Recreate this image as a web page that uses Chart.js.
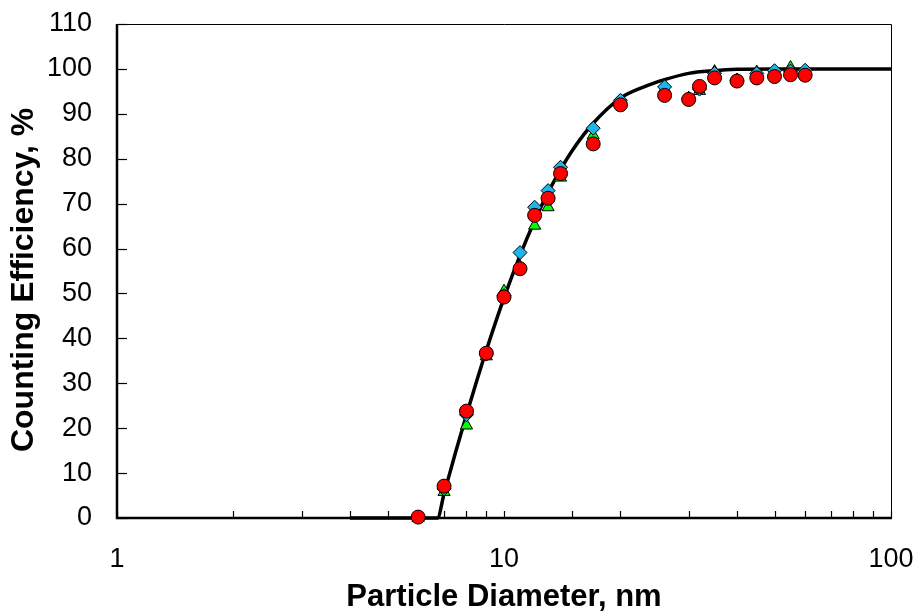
<!DOCTYPE html>
<html>
<head>
<meta charset="utf-8">
<script src="https://cdn.jsdelivr.net/npm/chart.js"></script>
<style>
  html, body { margin: 0; padding: 0; background: #fff; }
  #wrap { width: 919px; height: 613px; position: relative; }
</style>
</head>
<body>
<div id="wrap"><canvas id="effChart"></canvas></div>
<script>
// particle diameters (nm) and counting efficiency (%)
const diamRed = [6, 7, 8, 9, 10, 11, 12, 13, 14, 17, 20, 26, 30, 32, 35, 40, 45, 50, 55, 60]
const effRed = [0.2, 7.1, 23.8, 36.7, 49.2, 55.5, 67.4, 71.2, 76.7, 83.3, 92.0, 94.1, 93.2, 96.1, 98.0, 97.3, 98.0, 98.3, 98.7, 98.6]

const diamGreen = [6, 7, 8, 9, 10, 11, 12, 13, 14, 17, 20, 26, 30, 32, 35, 40, 45, 50, 55, 60]
const effGreen = [0, 5.8, 20.6, 36.0, 50.5, 56.0, 65.1, 69.2, 75.8, 85.2, 92.5, 95.6, 93.5, 95.1, 99.4, 97.5, 99.3, 99.2, 100.3, 99.4]

const diamCyan = [7, 8, 9, 10, 11, 12, 13, 14, 17, 20, 26, 30, 32, 35, 40, 45, 50, 55, 60]
const effCyan = [6.5, 23.0, 36.5, 49.5, 59.1, 69.2, 72.9, 78.1, 86.8, 93.0, 96.0, 93.3, 95.5, 99.0, 97.5, 99.0, 99.6, 99.5, 99.7]

// fitted curve
const diamFit = [4, 6.73, 7, 7.5, 8, 8.5, 9, 10, 11, 12, 13, 14, 15, 17, 20, 23, 26, 30, 35, 40, 50, 60, 100]
const effFit = [0, 0, 5.4, 14.7, 23.0, 30.5, 37.3, 49.0, 58.5, 66.2, 72.5, 77.6, 81.8, 87.9, 93.5, 96.0, 97.6, 99.0, 99.6, 99.9, 100, 100, 100]

const xLabels = [1, 10, 100]
const yTicks = [0, 10, 20, 30, 40, 50, 60, 70, 80, 90, 100, 110]

const toPts = (xs, ys) => xs.map((d, i) => ({ x: d, y: ys[i] }))

document.addEventListener("DOMContentLoaded", () => {
  const canvas = document.getElementById("effChart")

  // inside tick marks + box, drawn under the markers
  const frame = {
    id: "frame",
    beforeDatasetsDraw(chart) {
      const { ctx, chartArea: a, scales } = chart
      const x = scales.x
      const y = scales.y
      ctx.save()
      ctx.strokeStyle = "#000"
      ctx.lineWidth = 1.2
      yTicks.forEach(v => {
        const py = Math.round(y.getPixelForValue(v)) + 0.5
        ctx.beginPath()
        ctx.moveTo(a.left, py)
        ctx.lineTo(a.left + 10, py)
        ctx.stroke()
      })
      x.ticks.forEach(t => {
        const px = Math.round(x.getPixelForValue(t.value)) + 0.5
        ctx.beginPath()
        ctx.moveTo(px, a.bottom)
        ctx.lineTo(px, a.bottom - 7)
        ctx.stroke()
      })
      // top and right: thin
      ctx.lineWidth = 1
      ctx.beginPath()
      ctx.moveTo(a.left, a.top + 0.5)
      ctx.lineTo(a.right + 0.5, a.top + 0.5)
      ctx.lineTo(a.right + 0.5, a.bottom)
      ctx.stroke()
      // left and bottom: heavier
      ctx.lineWidth = 2.5
      ctx.beginPath()
      ctx.moveTo(a.left, a.top)
      ctx.lineTo(a.left, a.bottom)
      ctx.lineTo(a.right + 1, a.bottom)
      ctx.stroke()
      ctx.restore()
    }
  }

  // keep the plot box where the reference has it
  const noPad = s => {
    s.paddingTop = 0
    s.paddingBottom = 0
    s.paddingLeft = 0
    s.paddingRight = 0
  }

  const fam = "'Liberation Sans', Arial, sans-serif"
  const tickFont = { family: fam, size: 27 }

  new Chart(canvas, {
    type: "scatter",
    data: {
      datasets: [
        {
          label: "circles",
          data: toPts(diamRed, effRed),
          pointStyle: "circle",
          pointRadius: 7,
          pointBackgroundColor: "#ff0000",
          pointBorderColor: "#000",
          pointBorderWidth: 1,
          order: 1,
        },
        {
          label: "diamonds",
          data: toPts(diamCyan, effCyan),
          pointStyle: "rectRot",
          pointRadius: 7,
          pointBackgroundColor: "#1eb6e8",
          pointBorderColor: "#000",
          pointBorderWidth: 1,
          order: 2,
        },
        {
          label: "triangles",
          data: toPts(diamGreen, effGreen),
          pointStyle: "triangle",
          pointRadius: 7,
          pointBackgroundColor: "#00ff00",
          pointBorderColor: "#000",
          pointBorderWidth: 1,
          order: 3,
        },
        {
          label: "fit",
          data: toPts(diamFit, effFit),
          showLine: true,
          borderColor: "#000",
          borderWidth: 3.5,
          pointRadius: 0,
          cubicInterpolationMode: "monotone",
          order: 4,
        },
      ],
    },
    options: {
      responsive: true,
      maintainAspectRatio: false,
      animation: false,
      clip: false,
      layout: { padding: { left: 0, top: 24, right: 28, bottom: 0 } },
      plugins: {
        legend: { display: false },
        tooltip: { enabled: false },
      },
      scales: {
        x: {
          type: "logarithmic",
          min: 1,
          max: 100,
          grid: { display: false, drawTicks: false },
          border: { display: false },
          ticks: {
            autoSkip: false,
            maxRotation: 0,
            padding: 25,
            color: "#000",
            font: tickFont,
            callback: v => (xLabels.includes(v) ? String(v) : ""),
          },
          title: {
            display: true,
            text: "Particle Diameter, nm",
            color: "#000",
            font: { family: fam, size: 31, weight: "bold", lineHeight: 1 },
            padding: { top: 0, bottom: 0 },
          },
          afterFit: s => { s.height = 95; noPad(s) },
        },
        y: {
          min: 0,
          max: 110,
          grid: { display: false, drawTicks: false },
          border: { display: false },
          ticks: { stepSize: 10, padding: 25, color: "#000", font: tickFont },
          title: {
            display: true,
            text: "Counting Efficiency, %  ",
            color: "#000",
            font: { family: fam, size: 32, weight: "bold", lineHeight: 1 },
            padding: { top: 8, bottom: 0 },
          },
          afterFit: s => { s.width = 117; noPad(s) },
        },
      },
    },
    plugins: [frame],
  })
})
</script>
</body>
</html>
